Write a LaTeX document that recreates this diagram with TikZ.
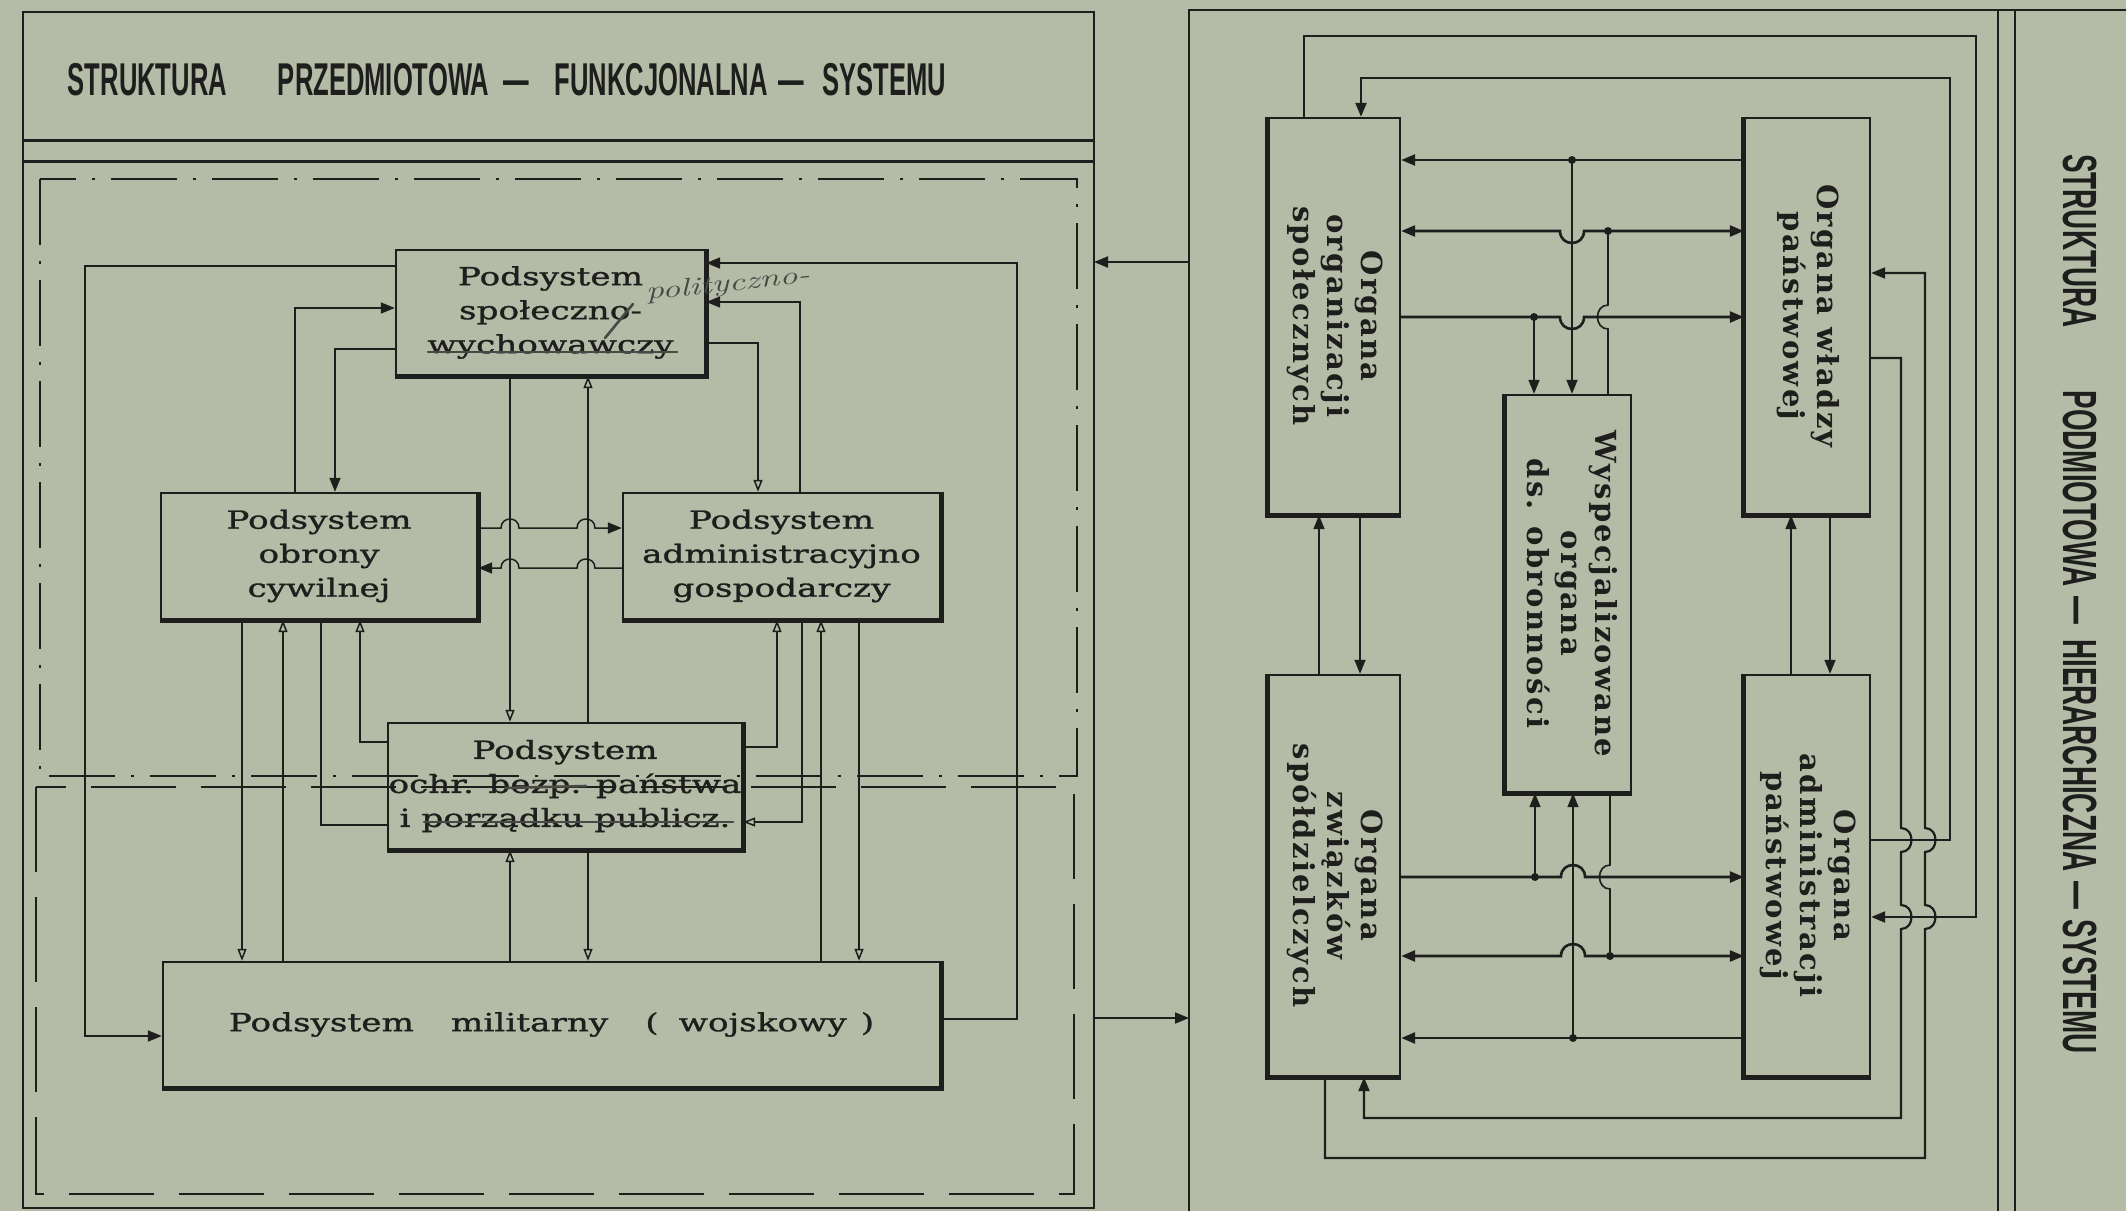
\documentclass[tikz,border=0pt]{standalone}
\usepackage{fontspec}
\usetikzlibrary{arrows.meta}
\newfontfamily\titlefont[FakeStretch=0.556]{Liberation Sans}
\newfontfamily\rtitlefont[FakeStretch=0.58]{Liberation Sans}
\newfontfamily\lboxfont[FakeStretch=1.37,FakeBold=1.2]{DejaVu Serif}
\newfontfamily\rboxfont[LetterSpace=8]{DejaVu Serif}
\definecolor{paper}{RGB}{180,187,167}
\definecolor{ink}{RGB}{30,30,28}
\definecolor{pencil}{RGB}{72,72,68}
\tikzset{
  frameline/.style={draw=ink, line width=2.5pt},
  dashdotframe/.style={draw=ink, line width=2.2pt, dash pattern=on 66pt off 16pt on 3pt off 16pt},
  dashframe/.style={draw=ink, line width=2.2pt, dash pattern=on 85pt off 25pt},
  lbox/.style={draw=ink, line width=2.4pt, inner sep=0pt, align=center, text=ink,
     font=\lboxfont\fontsize{25}{34}\selectfont},
  rbox/.style={draw=ink, line width=2.4pt, inner sep=0pt, text=ink,
     font=\rboxfont\bfseries\fontsize{29}{34}\selectfont},
  boxshadow/.style={draw=ink, line width=5pt},
  lconn/.style={draw=ink, line width=1.5pt},
  lloop/.style={draw=ink, line width=1.9pt},
  rrow/.style={draw=ink, line width=2.6pt},
  rvert/.style={draw=ink, line width=1.6pt},
  rloop/.style={draw=ink, line width=2.2pt},
  farr/.style={-{Triangle[length=14pt,width=11pt]}},
  farrb/.style={{Triangle[length=14pt,width=11pt]}-{Triangle[length=14pt,width=11pt]}},
  oarr/.style={-{Triangle[open,length=12pt,width=9pt]}},
  jdot/.style={circle, fill=ink, inner sep=0pt, minimum size=8pt},
  strikeout/.style={draw=pencil, line width=2.6pt, line cap=round},
}
\begin{document}
\begin{tikzpicture}[x=1pt,y=-1pt]
\useasboundingbox (0,0) rectangle (2126,1211);
\fill[paper] (0,0) rectangle (2126,1211);

% ---------------- left panel frames ----------------
\draw[frameline] (23,12) rectangle (1094,1208);
\draw[ink, line width=3pt] (23,140) -- (1094,140);
\draw[ink, line width=3pt] (23,161) -- (1094,161);
\draw[dashdotframe] (40,179) rectangle (1077,776);
\draw[dashframe] (36,787) rectangle (1074,1194);

\node[text=ink, inner sep=0pt, font=\titlefont\bfseries\fontsize{46}{46}\selectfont] (ltitle) at (507,80)
  {STRUKTURA\hspace{51pt}PRZEDMIOTOWA\hspace{14pt}—\hspace{26pt}FUNKCJONALNA\hspace{11pt}—\hspace{18pt}SYSTEMU};

% ---------------- left boxes ----------------
\node[lbox, minimum width=309pt, minimum height=125pt] (spol) at (550.5,312.5) {Podsystem\\społeczno-\\wychowawczy};
\node[lbox, minimum width=316pt, minimum height=126pt] (obr) at (319,556) {Podsystem\\obrony\\cywilnej};
\node[lbox, minimum width=317pt, minimum height=126pt] (adm) at (781.5,556) {Podsystem\\administracyjno\\gospodarczy};
\node[lbox, minimum width=354pt, minimum height=126pt] (ochr) at (565,786) {Podsystem\\ochr. bezp. państwa\\i porządku publicz.};
\node[lbox, minimum width=777pt, minimum height=125pt] (mil) at (551.5,1024.5)
  {Podsystem\hspace{37pt}militarny\hspace{37pt}(\hspace{20pt}wojskowy\hspace{14pt})};
\foreach \n in {spol,obr,adm,ochr,mil}
  \draw[boxshadow] (\n.south west) -- (\n.south east) -- (\n.north east);

% handwritten corrections
\node[text=pencil, font=\itshape\fontsize{25}{25}\selectfont, rotate=6, inner sep=0pt] (hw) at (728,285) {\scalebox{1.45}[1]{polityczno-}};
\draw[strikeout] (605,338) -- (633,304);
\draw[strikeout] (428,352) -- (677,352);
\draw[strikeout] (505,788) -- (586,786);
\draw[strikeout] (424,822) -- (733,822);

% ---------------- left connectors ----------------
\draw[lloop, farr] (spol.west |- 0,266) -- (85,266) -- (85,1036) -- (mil.west |- 0,1036);
\draw[lloop, farr] (mil.east |- 0,1019) -- (1017,1019) -- (1017,263) -- (spol.east |- 0,263);
\draw[lconn, farr] (obr.north -| 295,0) -- (295,308) -- (spol.west |- 0,308);
\draw[lconn, farr] (spol.west |- 0,349) -- (335,349) -- (obr.north -| 335,0);
\draw[lconn, oarr] (spol.east |- 0,343) -- (758,343) -- (adm.north -| 758,0);
\draw[lconn, farr] (adm.north -| 800,0) -- (800,302) -- (spol.east |- 0,302);
\draw[lconn, farr] (obr.east |- 0,528) -- (501,528) .. controls (501,516) and (519,516) .. (519,528)
   -- (577,528) .. controls (577,516) and (595,516) .. (595,528) -- (adm.west |- 0,528);
\draw[lconn, farr] (adm.west |- 0,568) -- (595,568) .. controls (595,556) and (577,556) .. (577,568)
   -- (519,568) .. controls (519,556) and (501,556) .. (501,568) -- (obr.east |- 0,568);
\draw[lconn, oarr] (spol.south -| 510,0) -- (ochr.north -| 510,0);
\draw[lconn, oarr] (ochr.north -| 588,0) -- (spol.south -| 588,0);
\draw[lconn, oarr] (mil.north -| 510,0) -- (ochr.south -| 510,0);
\draw[lconn, oarr] (ochr.south -| 588,0) -- (mil.north -| 588,0);
\draw[lconn, oarr] (obr.south -| 242,0) -- (mil.north -| 242,0);
\draw[lconn, oarr] (mil.north -| 283,0) -- (obr.south -| 283,0);
\draw[lconn] (obr.south -| 321,0) -- (321,825) -- (ochr.west |- 0,825);
\draw[lconn, oarr] (ochr.west |- 0,742) -- (360,742) -- (obr.south -| 360,0);
\draw[lconn, oarr] (ochr.east |- 0,747) -- (777,747) -- (adm.south -| 777,0);
\draw[lconn, oarr] (adm.south -| 802,0) -- (802,822) -- (ochr.east |- 0,822);
\draw[lconn, oarr] (mil.north -| 821,0) -- (adm.south -| 821,0);
\draw[lconn, oarr] (adm.south -| 859,0) -- (mil.north -| 859,0);

% ---------------- right panel frames ----------------
\draw[frameline] (1189,1211) -- (1189,10) -- (2126,10);
\draw[frameline] (1998,10) -- (1998,1211);
\draw[frameline] (2015,10) -- (2015,1211);
\node[text=ink, inner sep=0pt, rotate=-90, font=\rtitlefont\bfseries\fontsize{48}{48}\selectfont] (rtitle) at (2080,604)
  {STRUKTURA\hspace{63pt}PODMIOTOWA\hspace{10pt}—\hspace{15pt}HIERARCHICZNA\hspace{10pt}—\hspace{10pt}SYSTEMU};

% between panels
\coordinate (pR1) at (1189,262); \coordinate (pL1) at (1094,262);
\coordinate (pL2) at (1094,1018); \coordinate (pR2) at (1189,1018);
\draw[lloop, farr] (pR1) -- (pL1);
\draw[lloop, farr] (pL2) -- (pR2);

% ---------------- right boxes ----------------
\node[rbox, minimum width=131pt, minimum height=396pt] (A) at (1334.5,316)
  {\rotatebox{-90}{\begin{tabular}{@{}c@{}}Organa\\organizacji\\społecznych\end{tabular}}};
\node[rbox, minimum width=125pt, minimum height=396pt] (B) at (1807.5,316)
  {\rotatebox{-90}{\begin{tabular}{@{}c@{}}Organa władzy\\państwowej\end{tabular}}};
\node[rbox, minimum width=125pt, minimum height=397pt] (C) at (1568.5,593.5)
  {\rotatebox{-90}{\begin{tabular}{@{}c@{}}Wyspecjalizowane\\organa\\ds. obronności\end{tabular}}};
\node[rbox, minimum width=131pt, minimum height=401pt] (D) at (1334.5,875.5)
  {\rotatebox{-90}{\begin{tabular}{@{}c@{}}Organa\\związków\\spółdzielczych\end{tabular}}};
\node[rbox, minimum width=125pt, minimum height=401pt] (E) at (1807.5,875.5)
  {\rotatebox{-90}{\begin{tabular}{@{}c@{}}Organa\\administracji\\państwowej\end{tabular}}};
\foreach \n in {A,B,C,D,E}
  \draw[boxshadow] (\n.north west) -- (\n.south west) -- (\n.south east);

% ---------------- right connectors ----------------
\node[jdot] (j1) at (1572,160) {};
\node[jdot] (j2) at (1608,231) {};
\node[jdot] (j3) at (1534,317) {};
\draw[rrow, farr] (B.west |- 0,160) -- (A.east |- 0,160);
\draw[rrow, farrb] (A.east |- 0,231) -- (1560,231) .. controls (1560,247) and (1584,247) .. (1584,231) -- (B.west |- 0,231);
\draw[rrow, farr] (A.east |- 0,317) -- (1560,317) .. controls (1560,333) and (1584,333) .. (1584,317) -- (B.west |- 0,317);
\draw[rvert, farr] (j1.center) -- (j1 |- C.north);
\draw[rvert, farr] (j3.center) -- (j3 |- C.north);
\draw[rvert] (j2.center) -- (1608,305) .. controls (1594,305) and (1594,329) .. (1608,329) -- (j2 |- C.north);

\node[jdot] (j4) at (1535,877) {};
\node[jdot] (j5) at (1610,956) {};
\node[jdot] (j6) at (1573,1038) {};
\draw[rrow, farr] (D.east |- 0,877) -- (1561,877) .. controls (1561,861) and (1585,861) .. (1585,877) -- (E.west |- 0,877);
\draw[rrow, farrb] (D.east |- 0,956) -- (1561,956) .. controls (1561,940) and (1585,940) .. (1585,956) -- (E.west |- 0,956);
\draw[rrow, farr] (E.west |- 0,1038) -- (D.east |- 0,1038);
\draw[rvert, farr] (j4.center) -- (j4 |- C.south);
\draw[rvert, farr] (j6.center) -- (j6 |- C.south);
\draw[rvert] (j5.center) -- (1610,889) .. controls (1596,889) and (1596,865) .. (1610,865) -- (j5 |- C.south);

\draw[rvert, farr] (D.north -| 1319,0) -- (A.south -| 1319,0);
\draw[rvert, farr] (A.south -| 1360,0) -- (D.north -| 1360,0);
\draw[rvert, farr] (E.north -| 1791,0) -- (B.south -| 1791,0);
\draw[rvert, farr] (B.south -| 1830,0) -- (E.north -| 1830,0);

\draw[rloop, farr] (A.north -| 1304,0) -- (1304,36) -- (1976,36) -- (1976,917) -- (E.east |- 0,917);
\draw[rloop, farr] (E.east |- 0,840) -- (1950,840) -- (1950,78) -- (1361,78) -- (A.north -| 1361,0);
\draw[rloop, farr] (D.south -| 1325,0) -- (1325,1158) -- (1925,1158) -- (1925,929)
   .. controls (1939,929) and (1939,905) .. (1925,905) -- (1925,852)
   .. controls (1939,852) and (1939,828) .. (1925,828) -- (1925,273) -- (B.east |- 0,273);
\draw[rloop, farr] (B.east |- 0,358) -- (1901,358) -- (1901,828)
   .. controls (1915,828) and (1915,852) .. (1901,852) -- (1901,905)
   .. controls (1915,905) and (1915,929) .. (1901,929) -- (1901,1118) -- (1364,1118) -- (D.south -| 1364,0);
\end{tikzpicture}
\end{document}
